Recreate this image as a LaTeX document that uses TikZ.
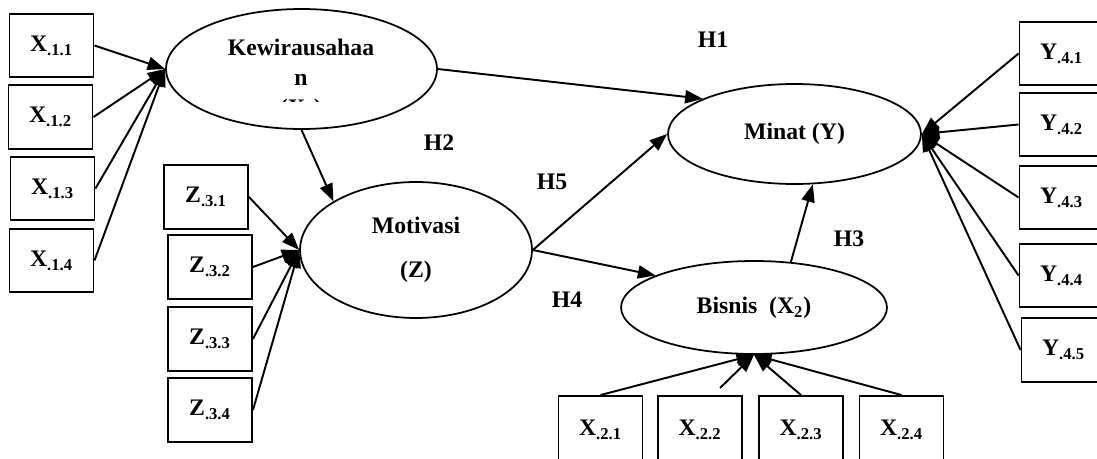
\documentclass[tikz,border=0pt]{standalone}
\usepackage{fontspec}
\setmainfont{Liberation Serif}
\usetikzlibrary{shapes.geometric,arrows.meta}
\newcommand{\ind}[2]{#1\textsubscript{#2}}
\begin{document}
\begin{tikzpicture}[x=0.02cm,y=-0.02cm,
    font=\fontsize{13.5}{16}\selectfont\bfseries,
    ind/.style={draw,line width=1.1pt,minimum width=1.68cm,minimum height=1.27cm,inner sep=0pt},
    var/.style={draw,ellipse,line width=1pt,inner sep=0pt},
    arr/.style={line width=1.1pt,-{Triangle[length=10pt,width=7.5pt]}}]
    \useasboundingbox (0,0) rectangle (1097,459);
    % latent variables
    \node[var,minimum width=5.42cm,minimum height=2.4cm] (kw) at (301.5,69) {};
    \node[var,minimum width=4.64cm,minimum height=2.72cm,align=center] (mot) at (416,250) {Motivasi\\[9pt](Z)};
    \node[var,minimum width=5.32cm,minimum height=1.86cm] (bis) at (754,307.5) {Bisnis\ \ (X\textsubscript{2})};
    \node[var,minimum width=5.06cm,minimum height=2cm] (min) at (794.5,134) {Minat (Y)};
    \begin{scope}
        \clip (160,30) rectangle (440,102);
        \node[align=center] at (301,80) {Kewirausahaa\\[1pt]n\\[1pt](X\textsubscript{1})};
    \end{scope}
    % indicators
    \node[ind] (x11) at (51.5,45.5) {\ind{X}{.1.1}};
    \node[ind] (x12) at (50.5,117) {\ind{X}{.1.2}};
    \node[ind] (x13) at (52.5,188.5) {\ind{X}{.1.3}};
    \node[ind] (x14) at (51.5,260.5) {\ind{X}{.1.4}};
    \node[ind] (z31) at (206,197) {\ind{Z}{.3.1}};
    \node[ind] (z32) at (210,267) {\ind{Z}{.3.2}};
    \node[ind] (z33) at (210,339) {\ind{Z}{.3.3}};
    \node[ind] (z34) at (210,410) {\ind{Z}{.3.4}};
    \node[ind,minimum height=1.36cm] (x21) at (600.5,430) {\ind{X}{.2.1}};
    \node[ind,minimum height=1.36cm] (x22) at (700,430) {\ind{X}{.2.2}};
    \node[ind,minimum height=1.36cm] (x23) at (801,430) {\ind{X}{.2.3}};
    \node[ind,minimum height=1.36cm] (x24) at (901.5,430) {\ind{X}{.2.4}};
    \node[ind] (y41) at (1061.5,53.5) {\ind{Y}{.4.1}};
    \node[ind] (y42) at (1061.5,124.5) {\ind{Y}{.4.2}};
    \node[ind] (y43) at (1061.5,197.5) {\ind{Y}{.4.3}};
    \node[ind] (y44) at (1061.5,275.5) {\ind{Y}{.4.4}};
    \node[ind] (y45) at (1063.5,350) {\ind{Y}{.4.5}};
    \coordinate (x22s) at (720,388);
    % hypotheses
    \node (h1) at (713,40) {H1};
    \node (h2) at (439,143) {H2};
    \node (h3) at (849,239) {H3};
    \node (h4) at (567,300) {H4};
    \node (h5) at (552,182) {H5};
    % connectors
    \foreach \n in {x11,x12,x13,x14} \draw[arr] (\n.east) -- (kw.west);
    \foreach \n in {z31,z32,z33,z34} \draw[arr] (\n.east) -- (mot.west);
    \foreach \n in {x21,x23,x24} \draw[arr] (\n.north) -- (bis.south);
    \draw[arr] (x22s) -- (bis.south);
    \foreach \n in {y41,y42,y43,y44,y45} \draw[arr] (\n.west) -- (min.east);
    \draw[arr] (kw.south) -- (mot.north west);
    \draw[arr] (kw.east) -- (min.159);
    \draw[arr] (mot.east) -- (min.west);
    \draw[arr] (mot.east) -- (bis.162);
    \draw[arr] (bis.51) -- (min.290);
\end{tikzpicture}
\end{document}
